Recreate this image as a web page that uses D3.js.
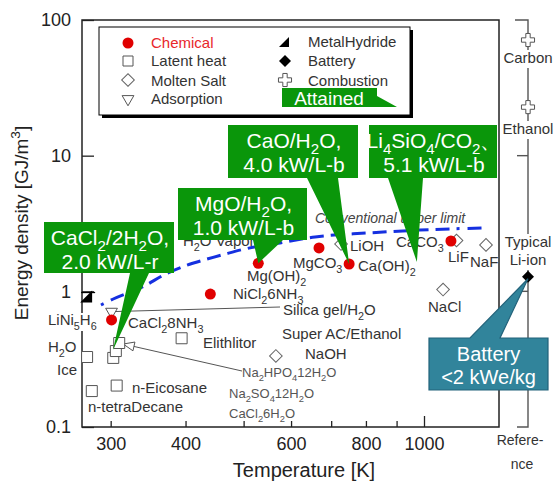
<!DOCTYPE html>
<html lang="en">
<head>
<meta charset="utf-8">
<script src="https://d3js.org/d3.v7.min.js"></script>
<style>
  body { margin: 0; background: #fff; }
  text { font-family: "Liberation Sans", Arial, sans-serif; }
</style>
</head>
<body>
<div id="chart"></div>
<script>
// ---- data (temperature in K, energy density in GJ/m3) ----
const chemicalNames = ["CaCl2 8NH3", "NiCl2 6NH3", "Mg(OH)2", "MgCO3", "Ca(OH)2", "CaCO3"];
const chemicalT = [301, 440, 529, 668, 750, 1109];
const chemicalE = [0.615, 0.955, 1.61, 2.09, 1.59, 2.35];

const latentNames = ["H2O Ice", "n-tetraDecane", "n-Eicosane", "Elithlitor", "CaCl2 6H2O", "Na2SO4 12H2O", "Na2HPO4 12H2O"];
const latentT = [274, 279, 307, 394, 303, 306, 310];
const latentE = [0.328, 0.184, 0.202, 0.451, 0.323, 0.363, 0.416];

const moltenNames = ["LiOH", "LiF", "NaF", "NaCl", "NaOH"];
const moltenT = [727, 1133, 1269, 1076, 566];
const moltenE = [2.23, 2.37, 2.20, 1.03, 0.334];

const adsorptionNames = ["Silica gel/H2O"];
const adsorptionT = [301];
const adsorptionE = [0.708];

const hydrideNames = ["LiNi5H6"];
const hydrideT = [273];
const hydrideE = [0.916];

// reference column (no temperature)
const refNames = ["Carbon", "Ethanol", "Typical Li-ion"];
const refKind = ["Combustion", "Combustion", "Battery"];
const refE = [71.2, 22.8, 1.28];

// conventional upper limit
const limitT = [289, 303, 344, 365, 399, 429, 466, 502, 575, 658, 803, 984, 1254];
const limitE = [0.793, 0.878, 1.113, 1.297, 1.538, 1.702, 1.884, 2.05, 2.27, 2.515, 2.69, 2.83, 2.93];

const xTicks = [300, 400, 500, 600, 700, 800, 900, 1000];
const xTickLabels = [300, 400, 600, 800, 1000];
const yTicks = [0.1, 1, 10, 100];
const yTickLabels = ["0.1", "1", "10", "100"];

// ---- layout ----
const W = 553, H = 481;
const P = { left: 82, right: 499, top: 20, bottom: 427 };
const refX = 528;

const x = d3.scaleLog().domain([268.7, 1334]).range([P.left, P.right]);
const y = d3.scaleLog().domain([0.1, 100]).range([P.bottom, P.top]);

const svg = d3.select("#chart").append("svg")
    .attr("width", W).attr("height", H);

// text with _{sub} and ^{sup}
function rich(sel, str, fs) {
    const parts = str.split(/(_\{[^}]*\}|\^\{[^}]*\})/).filter(s => s !== "");
    let cur = 0;
    parts.forEach(p => {
        let off = 0, t = p, size = fs;
        if (p.startsWith("_{")) { off = fs * 0.3; t = p.slice(2, -1); size = fs * 0.72; }
        else if (p.startsWith("^{")) { off = -fs * 0.4; t = p.slice(2, -1); size = fs * 0.72; }
        const ts = sel.append("tspan").attr("font-size", size).text(t);
        if (off !== cur) { ts.attr("dy", off - cur); cur = off; }
    });
    return sel;
}

function label(g, str, px, py, fs, opts = {}) {
    const t = g.append("text")
        .attr("x", px).attr("y", py)
        .attr("font-size", fs)
        .attr("fill", opts.fill || "#333")
        .attr("text-anchor", opts.anchor || "start")
        .attr("font-style", opts.italic ? "italic" : null);
    rich(t, str, fs);
    return t;
}

// ---- axes ----
const xAxis = svg.append("g")
    .attr("transform", `translate(0,${P.bottom})`)
    .call(d3.axisBottom(x).tickValues(xTicks).tickSize(-6).tickPadding(10)
        .tickFormat(d => xTickLabels.includes(d) ? d : ""));
xAxis.select(".domain").remove();
xAxis.selectAll(".tick line").attr("stroke", "#222").attr("stroke-width", 1.3)
    .attr("y2", d => d === 1000 ? -11 : -6);
xAxis.selectAll("text").attr("font-size", 18).attr("fill", "#222");

const yAxis = svg.append("g")
    .attr("transform", `translate(${P.left},0)`)
    .call(d3.axisLeft(y).tickValues(yTicks).tickSize(-12).tickPadding(11)
        .tickFormat((d, i) => yTickLabels[i]));
yAxis.select(".domain").remove();
yAxis.selectAll(".tick line").attr("stroke", "#222").attr("stroke-width", 1.3);
yAxis.selectAll("text").attr("font-size", 18).attr("fill", "#222");

svg.append("rect")
    .attr("x", P.left).attr("y", P.top)
    .attr("width", P.right - P.left).attr("height", P.bottom - P.top)
    .attr("fill", "none").attr("stroke", "#222").attr("stroke-width", 1.5);

// axis titles
label(svg, "Temperature [K]", 304, 477, 20, { anchor: "middle", fill: "#222" });
label(svg, "Energy density [GJ/m^{3}]", 0, 0, 19, { anchor: "middle", fill: "#222" })
    .attr("transform", "translate(28,223) rotate(-90)");

// ---- upper limit curve ----
const limitLine = d3.line()
    .x((d, i) => x(limitT[i]))
    .y((d, i) => y(limitE[i]))
    .curve(d3.curveMonotoneX);
svg.append("path")
    .attr("d", limitLine(limitT))
    .attr("fill", "none").attr("stroke", "#1530e0")
    .attr("stroke-width", 3).attr("stroke-dasharray", "3,8,14,7,14,7,14,7,14,7,14,7,14,7,14,7,14,7,14,7,14,7,14,7,14,7,14,7,14,7,14,7,14,7,14,7");
label(svg, "Conventional upper limit", 315, 223, 14, { italic: true, fill: "#444" });

// ---- point labels ----
const lab = svg.append("g");
const pointLabels = [
    ["CaCl_{2}8NH_{3}", 128, 328], ["NiCl_{2}6NH_{3}", 233, 299], ["Mg(OH)_{2}", 247, 281],
    ["MgCO_{3}", 293, 268], ["Ca(OH)_{2}", 358, 271], ["LiOH", 350, 251],
    ["CaCO_{3}", 396, 247], ["LiF", 448, 262], ["NaF", 470, 267], ["NaCl", 428, 312],
    ["Silica gel/H_{2}O", 283, 315], ["Super AC/Ethanol", 282, 339], ["NaOH", 305, 359],
    ["Elithlitor", 203, 348], ["n-Eicosane", 132, 393], ["n-tetraDecane", 88, 412],
    ["H_{2}O", 48, 352], ["Ice", 57, 375], ["H_{2}O Vapor", 183, 246]
];
pointLabels.forEach(d => label(lab, d[0], d[1], d[2], 15));
[["Na_{2}HPO_{4}12H_{2}O", 242, 377], ["Na_{2}SO_{4}12H_{2}O", 229, 398], ["CaCl_{2}6H_{2}O", 229, 418]]
    .forEach(d => label(lab, d[0], d[1], d[2], 13, { fill: "#555" }));

// leader line silica gel
svg.append("line")
    .attr("x1", x(adsorptionT[0]) - 2).attr("y1", y(adsorptionE[0]))
    .attr("x2", 280).attr("y2", 307)
    .attr("stroke", "#555").attr("stroke-width", 1);

// arrow to hydrate salts
{
    const tx = x(latentT[6]) + 4, ty = y(latentE[6]) + 1;
    const sx = 242, sy = 371;
    const len = Math.hypot(sx - tx, sy - ty);
    const ux = (sx - tx) / len, uy = (sy - ty) / len;
    const bx = tx + ux * 11, by = ty + uy * 11;
    svg.append("line").attr("x1", sx).attr("y1", sy).attr("x2", bx).attr("y2", by)
        .attr("stroke", "#555").attr("stroke-width", 1);
    svg.append("path")
        .attr("d", `M${tx},${ty}L${bx - uy * 4.5},${by + ux * 4.5}L${bx + uy * 4.5},${by - ux * 4.5}Z`)
        .attr("fill", "#fff").attr("stroke", "#555").attr("stroke-width", 1);
}

// ---- markers ----
const sym = (type, size) => d3.symbol().type(type).size(size)();
const diamondPath = sym(d3.symbolSquare, 80);
const hydridePath = "M-6,6L6,6L6,-6Z";

svg.append("g").selectAll("path").data(latentT).join("path")
    .attr("d", sym(d3.symbolSquare, 121))
    .attr("transform", (d, i) => `translate(${x(d)},${y(latentE[i])})`)
    .attr("fill", "#fff").attr("stroke", "#555").attr("stroke-width", 1);

svg.append("g").selectAll("path").data(moltenT).join("path")
    .attr("d", diamondPath)
    .attr("transform", (d, i) => `translate(${x(d)},${y(moltenE[i])}) rotate(45)`)
    .attr("fill", "#fff").attr("stroke", "#666").attr("stroke-width", 1);

svg.append("g").selectAll("path").data(adsorptionT).join("path")
    .attr("d", sym(d3.symbolTriangle, 60))
    .attr("transform", (d, i) => `translate(${x(d)},${y(adsorptionE[i])}) rotate(180)`)
    .attr("fill", "#fff").attr("stroke", "#555").attr("stroke-width", 1);

svg.append("g").selectAll("circle").data(chemicalT).join("circle")
    .attr("cx", d => x(d)).attr("cy", (d, i) => y(chemicalE[i]))
    .attr("r", 5.5).attr("fill", "#e00000");

const hyd = svg.append("g");
hydrideT.forEach((d, i) => {
    const cx = x(d), cy = y(hydrideE[i]);
    hyd.append("line").attr("x1", cx - 5).attr("x2", cx + 9).attr("y1", cy - 4).attr("y2", cy - 4)
        .attr("stroke", "#000").attr("stroke-width", 1.3);
    hyd.append("path").attr("d", hydridePath).attr("transform", `translate(${cx},${cy})`).attr("fill", "#000");
});
// LiNi5H6 label with white background
lab.append("rect").attr("x", 46).attr("y", 313).attr("width", 56).attr("height", 18).attr("fill", "#fff");
label(lab, "LiNi_{5}H_{6}", 48, 325, 15);

// ---- reference column ----
const ref = svg.append("g");
ref.append("path")
    .attr("d", `M515,${P.top}H${refX}V${P.bottom}H517`)
    .attr("fill", "none").attr("stroke", "#555").attr("stroke-width", 1.4);
[10, 1].forEach(v => ref.append("line")
    .attr("x1", 517).attr("x2", refX).attr("y1", y(v)).attr("y2", y(v))
    .attr("stroke", "#555").attr("stroke-width", 1.4));
const refLabels = [[["Carbon"], [63]], [["Ethanol"], [134]], [["Typical", "Li-ion"], [247, 265]]];
refLabels.forEach(([lines, ys]) => {
    ref.append("rect").attr("x", 502).attr("y", ys[0] - 13)
        .attr("width", 51).attr("height", ys[ys.length - 1] - ys[0] + 18).attr("fill", "#fff");
    lines.forEach((s, k) => label(ref, s, 528, ys[k], 15, { anchor: "middle" }));
});
label(ref, "Refere-", 520, 445, 14, { anchor: "middle" });
label(ref, "nce", 522, 469, 14, { anchor: "middle" });
refE.forEach((v, i) => {
    if (refKind[i] === "Combustion") {
        ref.append("path").attr("d", sym(d3.symbolCross, 95))
            .attr("transform", `translate(${refX},${y(v)})`)
            .attr("fill", "#fff").attr("stroke", "#555").attr("stroke-width", 1);
    } else {
        ref.append("path").attr("d", sym(d3.symbolSquare, 72))
            .attr("transform", `translate(${refX},${y(v)}) rotate(45)`)
            .attr("fill", "#000");
    }
});

// ---- callouts ----
const green = "#0a960a";
const callouts = [
    { lines: ["CaCl_{2}/2H_{2}O,", "2.0 kW/L-r"], box: [44, 222, 130, 51], base: [130, 149], tip: [302.7, 0.37] },
    { lines: ["MgO/H_{2}O,", "1.0 kW/L-b"], box: [178, 188, 129, 52], base: [253, 283], tip: [chemicalT[2], chemicalE[2]] },
    { lines: ["CaO/H_{2}O,", "4.0 kW/L-b"], box: [228, 125, 130, 53], base: [307, 338], tip: [chemicalT[4], chemicalE[4]] },
    { lines: ["Li_{4}SiO_{4}/CO_{2}\u3001", "5.1 kW/L-b"], box: [369, 125, 128, 53], base: [388, 423], tip: [973, 1.645] }
];
const cg = svg.append("g");
callouts.forEach(c => {
    const [bx, by, bw, bh] = c.box;
    const tx = x(c.tip[0]), ty = y(c.tip[1]);
    cg.append("path")
        .attr("d", `M${bx},${by}H${bx + bw}V${by + bh}H${c.base[1]}L${tx},${ty}L${c.base[0]},${by + bh}H${bx}Z`)
        .attr("fill", green);
    c.lines.forEach((s, k) => label(cg, s, bx + bw / 2 + 1, by + 23 + k * 23.5, 21, { anchor: "middle", fill: "#fff" }));
});
// battery callout
{
    const bx = 429, by = 338, bw = 119, bh = 52;
    const tx = refX, ty = y(refE[2]) + 2;
    cg.append("path")
        .attr("d", `M${bx},${by}H470L${tx},${ty}L500,${by}H${bx + bw}V${by + bh}H${bx}Z`)
        .attr("fill", "#31849b").attr("stroke", "#22627a").attr("stroke-width", 1.2);
    label(cg, "Battery", bx + bw / 2, 361, 20, { anchor: "middle", fill: "#fff" });
    label(cg, "<2 kWe/kg", bx + bw / 2, 384, 20, { anchor: "middle", fill: "#fff" });
}

// ---- legend ----
const lg = svg.append("g");
lg.append("rect").attr("x", 102).attr("y", 30).attr("width", 311).attr("height", 88).attr("fill", "#000");
lg.append("rect").attr("x", 99).attr("y", 27).attr("width", 311).attr("height", 88)
    .attr("fill", "#fff").attr("stroke", "#000").attr("stroke-width", 1);
const legendLeft = [
    ["Chemical", 48, "#e8262b"], ["Latent heat", 66, "#333"],
    ["Molten Salt", 86, "#333"], ["Adsorption", 104, "#333"]
];
legendLeft.forEach(d => label(lg, d[0], 151, d[1], 15, { fill: d[2] }));
lg.append("circle").attr("cx", 128).attr("cy", 43).attr("r", 5.5).attr("fill", "#e00000");
lg.append("path").attr("d", sym(d3.symbolSquare, 100)).attr("transform", "translate(128,61)")
    .attr("fill", "#fff").attr("stroke", "#555");
lg.append("path").attr("d", diamondPath).attr("transform", "translate(128,80) rotate(45)")
    .attr("fill", "#fff").attr("stroke", "#666");
lg.append("path").attr("d", sym(d3.symbolTriangle, 60)).attr("transform", "translate(128,99) rotate(180)")
    .attr("fill", "#fff").attr("stroke", "#555");
[["MetalHydride", 47], ["Battery", 66], ["Combustion", 86]]
    .forEach(d => label(lg, d[0], 308, d[1], 15));
lg.append("path").attr("d", "M-5,5L5,5L5,-5Z").attr("transform", "translate(284,42)").attr("fill", "#000");
lg.append("path").attr("d", sym(d3.symbolSquare, 72)).attr("transform", "translate(285,61) rotate(45)").attr("fill", "#000");
lg.append("path").attr("d", sym(d3.symbolCross, 95)).attr("transform", "translate(285,80)")
    .attr("fill", "#fff").attr("stroke", "#555");
lg.append("path").attr("d", "M282,88H377V96L397,107H282Z").attr("fill", green);
label(lg, "Attained", 329, 105, 19, { anchor: "middle", fill: "#fff" });
</script>
</body>
</html>
